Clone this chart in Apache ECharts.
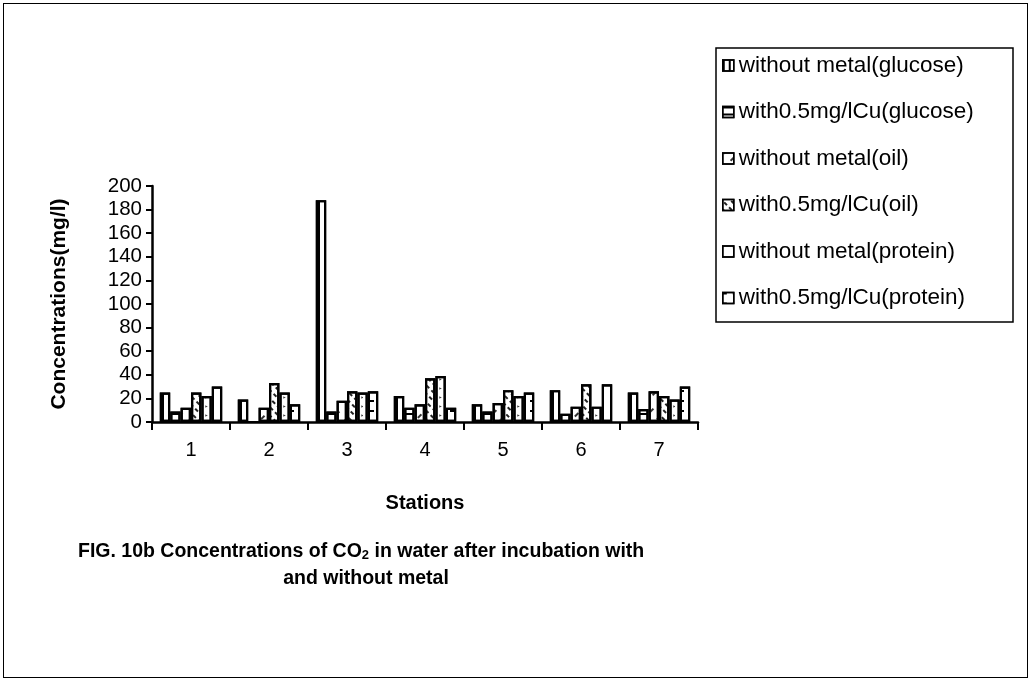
<!DOCTYPE html>
<html>
<head>
<meta charset="utf-8">
<script src="https://cdn.jsdelivr.net/npm/echarts@6/dist/echarts.min.js"></script>
<style>
  html, body { margin: 0; padding: 0; background: #fff; }
  #frame { position: absolute; left: 3px; top: 3px; width: 1025px; height: 675px; border: 1.5px solid #000; box-sizing: border-box; }
  #chart { position: absolute; left: 0; top: 0; width: 1033px; height: 683px; }
</style>
</head>
<body>
<div id="chart"></div>
<div id="frame"></div>
<script>
// Stations along the x axis
const stations = ['1', '2', '3', '4', '5', '6', '7'];

// CO2 concentrations (mg/l) per treatment, one value per station
const withoutMetalGlucose = [25, 19, 188, 22, 15, 27, 25];
const withCuGlucose       = [9, 0, 9, 12, 9, 7, 11];
const withoutMetalOil     = [12, 12, 18, 15, 16, 13, 26];
const withCuOil           = [25, 33, 26, 37, 27, 32, 22];
const withoutMetalProtein = [22, 25, 25, 39, 22, 13, 19];
const withCuProtein       = [30, 15, 26, 12, 25, 32, 30];

const seriesNames = [
  'without metal(glucose)',
  'with0.5mg/lCu(glucose)',
  'without metal(oil)',
  'with0.5mg/lCu(oil)',
  'without metal(protein)',
  'with0.5mg/lCu(protein)'
];
const seriesValues = [withoutMetalGlucose, withCuGlucose, withoutMetalOil, withCuOil, withoutMetalProtein, withCuProtein];

// Y axis ticks
const yMin = 0, yMax = 200, yStep = 20;

// Monochrome hatch patterns, one per treatment
const hatches = [
  { symbol: 'rect', color: '#000', dashArrayX: [1.5, 4], dashArrayY: [1, 0] },
  { symbol: 'rect', color: '#000', dashArrayX: [1, 0], dashArrayY: [2, 5] },
  { symbol: 'rect', color: '#333', dashArrayX: [[5, 9]], dashArrayY: [1.3, 8], rotation: -Math.PI / 4 },
  { symbol: 'rect', color: '#222', dashArrayX: [[4, 3], [0, 3, 4, 0]], dashArrayY: [1.5, 4], rotation: Math.PI / 4 },
  { symbol: 'triangle', color: '#444', symbolSize: 0.8, dashArrayX: [[3, 6]], dashArrayY: [3, 10], rotation: Math.PI / 2 },
  { symbol: 'rect', color: '#000', dashArrayX: [[4, 6]], dashArrayY: [1.8, 8] }
];

const font = '"Liberation Sans", Arial, sans-serif';
const chart = echarts.init(document.getElementById('chart'), null, { renderer: 'canvas' });

const series = seriesNames.map((name, i) => ({
  name: name,
  type: 'bar',
  data: seriesValues[i],
  barGap: '0%',
  barCategoryGap: '20%',
  itemStyle: {
    color: '#fff',
    borderColor: '#000',
    borderWidth: 2.2,
    decal: hatches[i]
  },
  emphasis: { disabled: true }
}));

chart.setOption({
  animation: false,
  aria: { enabled: false },
  textStyle: { fontFamily: font },
  grid: { left: 152, right: 335, top: 186, bottom: 261, containLabel: false },
  legend: {
    orient: 'vertical',
    left: 716,
    top: 48,
    padding: [6, 10, 10, 6],
    itemGap: 23.5,
    itemWidth: 11,
    itemHeight: 11,
    icon: 'rect',
    selectedMode: false,
    itemStyle: { borderColor: '#000', borderWidth: 1.5 },
    textStyle: { fontFamily: font, fontSize: 22.5, color: '#000', lineHeight: 23 },
    data: seriesNames
  },
  xAxis: {
    type: 'category',
    data: stations,
    axisLine: { lineStyle: { color: '#000', width: 2.5 } },
    axisTick: { show: true, inside: false, length: 8, lineStyle: { color: '#000', width: 2 } },
    axisLabel: { color: '#000', fontSize: 20, margin: 18, fontFamily: font },
    name: 'Stations',
    nameLocation: 'middle',
    nameGap: 71,
    nameTextStyle: { color: '#000', fontSize: 20, fontWeight: 'bold', fontFamily: font }
  },
  yAxis: {
    type: 'value',
    min: yMin,
    max: yMax,
    interval: yStep,
    splitLine: { show: false },
    axisLine: { show: true, lineStyle: { color: '#000', width: 2.5 } },
    axisTick: { show: true, length: 6, lineStyle: { color: '#000', width: 2 } },
    axisLabel: { color: '#000', fontSize: 20.5, margin: 10, fontFamily: font },
    name: 'Concentrations(mg/l)',
    nameLocation: 'middle',
    nameGap: 82,
    nameRotate: 90,
    nameTextStyle: { color: '#000', fontSize: 21, fontWeight: 'bold', fontFamily: font }
  },
  graphic: [
    {
      type: 'rect',
      shape: { x: 716, y: 48, width: 297, height: 274 },
      style: { fill: 'none', stroke: '#000', lineWidth: 1.5 },
      silent: true
    },
    {
      type: 'text',
      x: 78,
      y: 541,
      style: {
        text: 'FIG. 10b Concentrations of CO{sub|2} in water after incubation with',
        font: 'bold 19.5px ' + font,
        fill: '#000',
        rich: {
          sub: { font: 'bold 13px ' + font, fill: '#000', verticalAlign: 'bottom', padding: [8, 0, 0, 0] }
        }
      }
    },
    {
      type: 'text',
      x: 366,
      y: 569,
      style: {
        text: 'and without metal',
        font: 'bold 19.5px ' + font,
        fill: '#000',
        align: 'center'
      }
    }
  ],
  series: series
});
</script>
</body>
</html>
